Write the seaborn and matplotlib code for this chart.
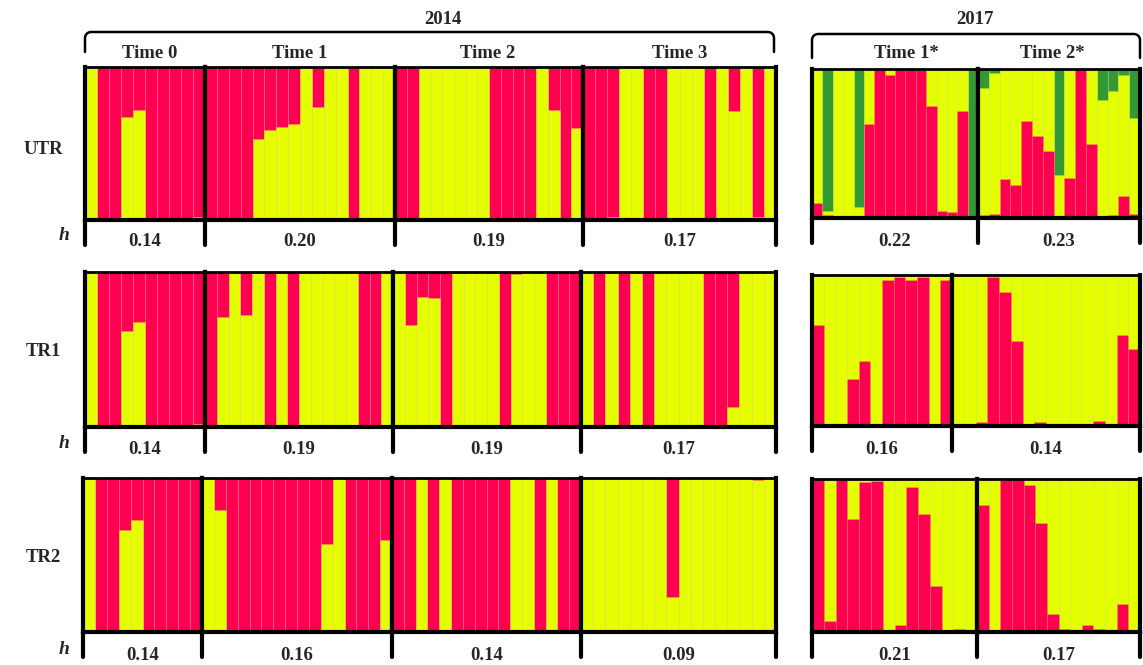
import numpy as np
import seaborn as sns
import matplotlib.pyplot as plt
from matplotlib.lines import Line2D

# membership (red cluster) per individual
utr_t0 = [0.0, 0.99, 0.99, 0.33, 0.28, 1.0, 0.99, 0.99, 0.99, 0.98]
utr_t1 = [1, 1, 1, 1, 0.47, 0.41, 0.39, 0.37, 0.0, 0.26, 0, 0, 1, 0, 0, 0]
utr_t2 = [1, 1, 0, 0, 0, 0, 0, 0, 1, 1, 1, 1, 0, 0.28, 1, 0.40]
utr_t3 = [1, 0.99, 0.98, 0, 0, 1, 1, 0, 0, 0, 1, 0, 0.29, 0, 0.98, 0]
utr_t1s = [0.10, 0.02, 0.01, 0.01, 0.01, 0.63, 1.0, 0.96, 1.0, 1.0, 0.99, 0.75, 0.045, 0.04, 0.72, 0.015]
utr_t1s_green = [0, 0.955, 0, 0, 0.925, 0, 0, 0, 0, 0, 0, 0, 0, 0, 0, 0.985]
utr_t2s = [0.02, 0.03, 0.26, 0.22, 0.65, 0.55, 0.45, 0.01, 0.27, 1.0, 0.50, 0.015, 0.02, 0.145, 0.03]
utr_t2s_green = [0.13, 0.03, 0, 0, 0, 0, 0, 0.71, 0, 0, 0, 0.21, 0.15, 0.04, 0.33]

tr1_t0 = [0.0, 1, 1, 0.38, 0.32, 1, 1, 1, 1, 0.98]
tr1_t1 = [1, 0.29, 0, 0.28, 0, 1, 0, 1, 0, 0, 0, 0, 0, 1, 1, 0]
tr1_t2 = [0, 0.34, 0.16, 0.17, 1, 0, 0, 0, 0, 1, 0.01, 0, 0, 1, 1, 1]
tr1_t3 = [0, 1, 0, 1, 0, 1, 0, 0, 0, 0, 1, 1, 0.87, 0, 0, 0]
tr1_t1s = [0.67, 0.01, 0.015, 0.31, 0.43, 0.01, 0.97, 0.985, 0.97, 0.985, 0.01, 0.97]
tr1_t2s = [0.01, 0.01, 0.025, 0.985, 0.89, 0.56, 0.015, 0.025, 0.01, 0.01, 0.01, 0.01, 0.035, 0.01, 0.60, 0.51]

tr2_t0 = [0.0, 0.99, 1, 0.34, 0.27, 1, 1, 1, 1, 0.99]
tr2_t1 = [0, 0.21, 1, 1, 1, 1, 1, 1, 1, 1, 0.43, 0, 1, 1, 0.99, 0.40]
tr2_t2 = [1, 1, 0, 1, 0, 1, 1, 1, 1, 0.99, 0, 0, 1, 0, 1, 1]
tr2_t3 = [0, 0, 0, 0, 0, 0, 0, 0.77, 0, 0, 0, 0, 0, 0, 0.015, 0]
tr2_t1s = [1.0, 0.07, 1.0, 0.74, 0.98, 0.99, 0.01, 0.045, 0.95, 0.77, 0.30, 0.01, 0.02, 0.01]
tr2_t2s = [0.83, 0.01, 1.0, 1.0, 0.96, 0.71, 0.12, 0.02, 0.01, 0.045, 0.02, 0.01, 0.18, 0.01]

row_labels = ["UTR", "TR1", "TR2"]
times_2014 = ["Time 0", "Time 1", "Time 2", "Time 3"]
times_2017 = ["Time 1*", "Time 2*"]
h_utr = ["0.14", "0.20", "0.19", "0.17", "0.22", "0.23"]
h_tr1 = ["0.14", "0.19", "0.19", "0.17", "0.16", "0.14"]
h_tr2 = ["0.14", "0.16", "0.14", "0.09", "0.21", "0.17"]

RED = "#FF0050"
YELLOW = "#E6FF00"
GREEN = "#339933"

sns.set_style("white")
plt.rcParams['font.family'] = ['Liberation Serif', 'DejaVu Serif']
plt.rcParams['font.weight'] = 'bold'

W, H = 1143, 665
fig = plt.figure(figsize=(W / 100, H / 100), dpi=100)


def fx(px):
    return px / W


def fy(py):
    return 1 - py / H


def draw_panel(box, red, green=None, red_bottom=False):
    x0, x1, y0, y1 = box
    ax = fig.add_axes([fx(x0), fy(y1), fx(x1) - fx(x0), fy(y0) - fy(y1)])
    n = len(red)
    idx = list(range(n))
    red = np.array(red, dtype=float)
    green = np.zeros(n) if green is None else np.array(green, dtype=float)
    yellow = 1 - red - green
    if red_bottom:
        layers = [(red + yellow + green, GREEN), (red + yellow, YELLOW), (red, RED)]
    else:
        layers = [(yellow + red, RED), (yellow, YELLOW)]
    for vals, col in layers:
        sns.barplot(x=idx, y=vals, color=col, width=1, saturation=1, errorbar=None,
                    linewidth=0.6, edgecolor=(1, 1, 1, 0.12), ax=ax)
    ax.set_xlim(-0.5, n - 0.5)
    ax.set_ylim(0, 1)
    ax.set_xticks([])
    ax.set_yticks([])
    ax.set_xlabel("")
    ax.set_ylabel("")
    for side in ["left", "right", "bottom"]:
        ax.spines[side].set_linewidth(3)
        ax.spines[side].set_color("black")
    ax.spines["top"].set_linewidth(2)
    ax.spines["top"].set_color("black")
    return ax


rows = [
    dict(y0=67, y1=220, y0b=69, y1b=218, x14=[85, 205, 395, 583, 776], x17=[812, 978, 1140],
         data=[utr_t0, utr_t1, utr_t2, utr_t3], data17=[utr_t1s, utr_t2s],
         green17=[utr_t1s_green, utr_t2s_green], h=h_utr, hy=242, lab_y=150),
    dict(y0=272, y1=427, y0b=275, y1b=426, x14=[85, 205, 393, 581, 776], x17=[812, 952, 1140],
         data=[tr1_t0, tr1_t1, tr1_t2, tr1_t3], data17=[tr1_t1s, tr1_t2s],
         green17=[None, None], h=h_tr1, hy=449, lab_y=352),
    dict(y0=478, y1=632, y0b=479, y1b=632, x14=[83, 202, 392, 581, 776], x17=[812, 977, 1140],
         data=[tr2_t0, tr2_t1, tr2_t2, tr2_t3], data17=[tr2_t1s, tr2_t2s],
         green17=[None, None], h=h_tr2, hy=655, lab_y=558),
]

for r, row in enumerate(rows):
    centers = []
    for i, vals in enumerate(row["data"]):
        xa, xb = row["x14"][i], row["x14"][i + 1]
        draw_panel((xa, xb, row["y0"], row["y1"]), vals)
        centers.append((xa + xb) / 2)
    for i, vals in enumerate(row["data17"]):
        xa, xb = row["x17"][i], row["x17"][i + 1]
        draw_panel((xa, xb, row["y0b"], row["y1b"]), vals, green=row["green17"][i], red_bottom=True)
        centers.append((xa + xb) / 2)

    # separators under each panel for the h row
    for xs, yb in [(row["x14"], row["y1"]), (row["x17"], row["y1b"])]:
        for xp in xs:
            fig.add_artist(Line2D([fx(xp), fx(xp)], [fy(yb), fy(yb + 25)], color="black", lw=3))
    for c, hv in zip(centers, row["h"]):
        fig.text(fx(c), fy(row["hy"]), hv, ha="center", va="center", fontsize=13.5, fontweight="bold")
    fig.text(fx(64), fy(row["hy"] - 6), "h", ha="center", va="center", fontsize=14,
             fontweight="bold", fontstyle="italic")
    fig.text(fx(43), fy(row["lab_y"]), row_labels[r], ha="center", va="center", fontsize=13.5,
             fontweight="bold")


def bracket(xa, xb, ytop, ybot):
    rad = 6
    t = np.linspace(0, np.pi / 2, 8)
    left_x = list(xa + rad - rad * np.cos(t))
    left_y = list(ytop + rad - rad * np.sin(t))
    right_x = list(xb - rad + rad * np.sin(t))
    right_y = list(ytop + rad - rad * np.cos(t))
    xs = [xa] + left_x + right_x + [xb]
    ys = [ybot] + left_y + right_y + [ybot]
    fig.add_artist(Line2D([fx(v) for v in xs], [fy(v) for v in ys], color="black", lw=1.8))


bracket(85, 774, 32, 52)
bracket(812, 1140, 34, 58)
fig.text(fx(443), fy(19), "2014", ha="center", va="center", fontsize=13.5, fontweight="bold")
fig.text(fx(975), fy(19), "2017", ha="center", va="center", fontsize=13.5, fontweight="bold")
for xc, t in zip([150, 300, 488, 680], times_2014):
    fig.text(fx(xc), fy(53), t, ha="center", va="center", fontsize=13.5, fontweight="bold")
for xc, t in zip([906, 1052], times_2017):
    fig.text(fx(xc), fy(53), t, ha="center", va="center", fontsize=13.5, fontweight="bold")

fig.savefig("out.png", dpi=100)
